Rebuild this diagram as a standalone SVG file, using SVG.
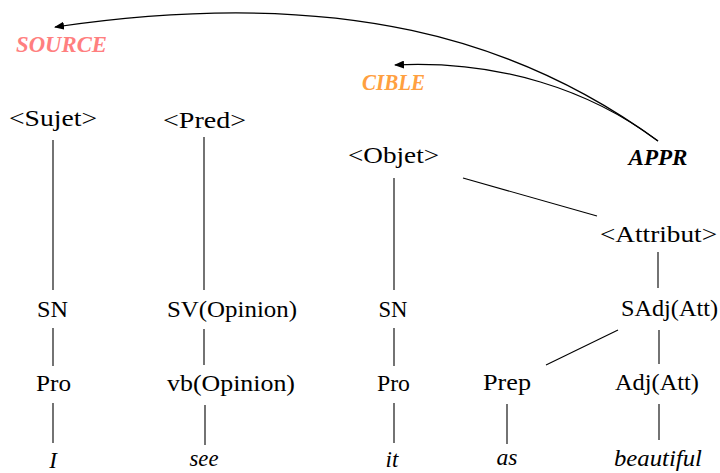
<svg xmlns="http://www.w3.org/2000/svg" width="720" height="473" viewBox="0 0 720 473">
<style>
  text { font-family: "Liberation Serif", "DejaVu Serif", serif; font-size: 23px; fill: #000; text-anchor: middle; }
  .it { font-style: italic; }
  .bi { font-style: italic; font-weight: bold; }
  .src { fill: #ff7f7f; }
  .cib { fill: #ffa040; }
  .edge { stroke: #000; stroke-width: 1.1; fill: none; }
  .arc { stroke: #000; stroke-width: 1.2; fill: none; marker-end: url(#ah); }
</style>
<defs>
  <marker id="ah" viewBox="0 0 10 8" refX="9" refY="4" markerWidth="10" markerHeight="8" markerUnits="userSpaceOnUse" orient="auto">
    <path d="M0,0 L10,4 L0,8 z" fill="#000"/>
  </marker>
</defs>
<rect width="720" height="473" fill="#fff"/>
<g id="connectors">
  <line class="edge" x1="53" y1="140" x2="53" y2="290"/>
  <line class="edge" x1="53" y1="328" x2="53" y2="366"/>
  <line class="edge" x1="53" y1="403" x2="53" y2="443"/>
  <line class="edge" x1="204" y1="137" x2="204" y2="290"/>
  <line class="edge" x1="204" y1="329" x2="204" y2="365"/>
  <line class="edge" x1="205" y1="405" x2="205" y2="445"/>
  <line class="edge" x1="394" y1="178" x2="394" y2="290"/>
  <line class="edge" x1="394" y1="328" x2="394" y2="366"/>
  <line class="edge" x1="394" y1="403" x2="394" y2="443"/>
  <line class="edge" x1="463" y1="178" x2="597" y2="216"/>
  <line class="edge" x1="658" y1="252" x2="658" y2="288"/>
  <line class="edge" x1="659" y1="330" x2="659" y2="364"/>
  <line class="edge" x1="618" y1="330" x2="546" y2="365"/>
  <line class="edge" x1="507" y1="404" x2="507" y2="444"/>
  <line class="edge" x1="659" y1="404" x2="659" y2="440"/>
  <path class="arc" d="M658,141 C520,40 340,-15 55,27"/>
  <path class="arc" d="M658,141 C590,90 500,60 395,65"/>
</g>
<g id="source"><text class="bi src" x="61.5" y="52" textLength="91" lengthAdjust="spacingAndGlyphs">SOURCE</text></g>
<g id="cible"><text class="bi cib" x="393.5" y="90" textLength="63" lengthAdjust="spacingAndGlyphs">CIBLE</text></g>
<g id="appr"><text class="bi" x="658" y="165" textLength="59" lengthAdjust="spacingAndGlyphs">APPR</text></g>
<g id="sujet"><text x="53" y="126" textLength="88" lengthAdjust="spacingAndGlyphs">&lt;Sujet&gt;</text></g>
<g id="pred"><text x="204.5" y="128" textLength="83" lengthAdjust="spacingAndGlyphs">&lt;Pred&gt;</text></g>
<g id="objet"><text x="393.5" y="163" textLength="91" lengthAdjust="spacingAndGlyphs">&lt;Objet&gt;</text></g>
<g id="attribut"><text x="658.5" y="242" textLength="117" lengthAdjust="spacingAndGlyphs">&lt;Attribut&gt;</text></g>
<g id="sn1"><text x="52.5" y="317" textLength="31" lengthAdjust="spacingAndGlyphs">SN</text></g>
<g id="sv"><text x="232" y="317" textLength="130" lengthAdjust="spacingAndGlyphs">SV(Opinion)</text></g>
<g id="sn2"><text x="393" y="317" textLength="29" lengthAdjust="spacingAndGlyphs">SN</text></g>
<g id="sadj"><text x="669.5" y="316" textLength="97" lengthAdjust="spacingAndGlyphs">SAdj(Att)</text></g>
<g id="pro1"><text x="53.5" y="391" textLength="35" lengthAdjust="spacingAndGlyphs">Pro</text></g>
<g id="vb"><text x="231" y="391" textLength="128" lengthAdjust="spacingAndGlyphs">vb(Opinion)</text></g>
<g id="pro2"><text x="393.5" y="391" textLength="33" lengthAdjust="spacingAndGlyphs">Pro</text></g>
<g id="prep"><text x="507" y="390" textLength="48" lengthAdjust="spacingAndGlyphs">Prep</text></g>
<g id="adj"><text x="657" y="390" textLength="84" lengthAdjust="spacingAndGlyphs">Adj(Att)</text></g>
<g id="w-i"><text class="it" x="53" y="468">I</text></g>
<g id="w-see"><text class="it" x="204" y="466" textLength="29" lengthAdjust="spacingAndGlyphs">see</text></g>
<g id="w-it"><text class="it" x="392" y="467">it</text></g>
<g id="w-as"><text class="it" x="507" y="465" textLength="21" lengthAdjust="spacingAndGlyphs">as</text></g>
<g id="w-beautiful"><text class="it" x="658" y="466" textLength="88" lengthAdjust="spacingAndGlyphs">beautiful</text></g>
</svg>
